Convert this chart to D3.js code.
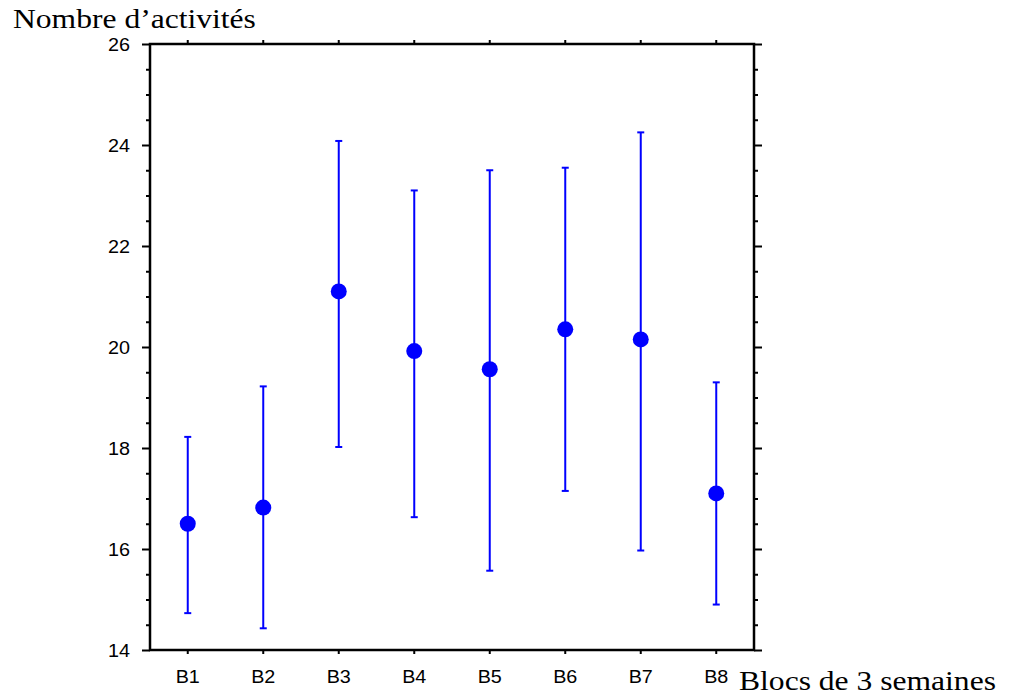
<!DOCTYPE html>
<html>
<head>
<meta charset="utf-8">
<script src="https://cdn.jsdelivr.net/npm/d3@7"></script>
<style>
  html, body { margin: 0; padding: 0; background: #fff; }
  svg { display: block; }
</style>
</head>
<body>
<svg id="chart" width="1010" height="700"></svg>
<script>
// ---- data ----
const categories = ["B1", "B2", "B3", "B4", "B5", "B6", "B7", "B8"];
const means = [16.5, 16.82, 21.1, 19.92, 19.56, 20.35, 20.15, 17.1];
const upper = [18.22, 19.22, 24.08, 23.1, 23.5, 23.55, 24.25, 19.3];
const lower = [14.73, 14.43, 18.02, 16.63, 15.57, 17.15, 15.97, 14.9];
const yMajorTicks = [14, 16, 18, 20, 22, 24, 26];
const yMinorTicks = [14.5, 15, 15.5, 16.5, 17, 17.5, 18.5, 19, 19.5, 20.5, 21, 21.5, 22.5, 23, 23.5, 24.5, 25, 25.5];
const yTitle = "Nombre d’activités";
const xTitle = "Blocs de 3 semaines";

// ---- layout ----
const L = 150, R = 754, T = 44, B = 650;
const svg = d3.select("#chart");
const sansFont = "'Liberation Sans', Arial, sans-serif";
const serifFont = "'Liberation Serif', 'Times New Roman', serif";
const sx = 1.13;   // horizontal stretch of labels in reference
const sxSerif = 1.17;

const x = d3.scaleBand().domain(categories).range([L, R]).padding(0);
const y = d3.scaleLinear().domain([14, 26]).range([B, T]);
const cx = c => x(c) + x.bandwidth() / 2;

function styleAxis(g) {
  g.select(".domain").remove();
  g.selectAll("line").attr("stroke", "#000").attr("stroke-width", 2);
  g.selectAll("text").remove();
}

// left axis: major + minor ticks outward
svg.append("g").attr("transform", `translate(${L},0)`)
  .call(d3.axisLeft(y).tickValues(yMajorTicks).tickSize(8)).call(styleAxis);
svg.append("g").attr("transform", `translate(${L},0)`)
  .call(d3.axisLeft(y).tickValues(yMinorTicks).tickSize(4)).call(styleAxis);
// right axis
svg.append("g").attr("transform", `translate(${R},0)`)
  .call(d3.axisRight(y).tickValues(yMajorTicks).tickSize(8)).call(styleAxis);
svg.append("g").attr("transform", `translate(${R},0)`)
  .call(d3.axisRight(y).tickValues(yMinorTicks).tickSize(4)).call(styleAxis);
// top & bottom
svg.append("g").attr("transform", `translate(0,${T})`)
  .call(d3.axisTop(x).tickSize(4)).call(styleAxis);
svg.append("g").attr("transform", `translate(0,${B})`)
  .call(d3.axisBottom(x).tickSize(4)).call(styleAxis);

// frame
svg.append("rect")
  .attr("x", L).attr("y", T).attr("width", R - L).attr("height", B - T)
  .attr("fill", "none").attr("stroke", "#000").attr("stroke-width", 2.5);

// y tick labels
svg.append("g").selectAll("text").data(yMajorTicks).join("text")
  .attr("transform", d => `translate(130,${y(d) + 6.5}) scale(${sx},1)`)
  .attr("text-anchor", "end")
  .attr("font-family", sansFont).attr("font-size", 17.5)
  .attr("fill", "#000")
  .text(d => d);

// x tick labels
svg.append("g").selectAll("text").data(categories).join("text")
  .attr("transform", d => `translate(${cx(d)},683) scale(${sx},1)`)
  .attr("text-anchor", "middle")
  .attr("font-family", sansFont).attr("font-size", 17.5)
  .attr("fill", "#000")
  .text(d => d);

// titles
svg.append("text")
  .attr("transform", `translate(13,28) scale(${sxSerif},1)`)
  .attr("font-family", serifFont).attr("font-size", 27).attr("fill", "#000")
  .text(yTitle);
svg.append("text")
  .attr("transform", `translate(739,690) scale(${sxSerif},1)`)
  .attr("font-family", serifFont).attr("font-size", 27).attr("fill", "#000")
  .text(xTitle);

// error bars
const data = categories.map((c, i) => ({ c, m: means[i], lo: lower[i], hi: upper[i] }));
const blue = "#0000ff";
const eb = svg.append("g");
eb.selectAll("line.v").data(data).join("line").attr("class", "v")
  .attr("x1", d => cx(d.c)).attr("x2", d => cx(d.c))
  .attr("y1", d => y(d.lo)).attr("y2", d => y(d.hi))
  .attr("stroke", blue).attr("stroke-width", 2);
const capW = 3.5;
eb.selectAll("line.hi").data(data).join("line").attr("class", "hi")
  .attr("x1", d => cx(d.c) - capW).attr("x2", d => cx(d.c) + capW)
  .attr("y1", d => y(d.hi)).attr("y2", d => y(d.hi))
  .attr("stroke", blue).attr("stroke-width", 2);
eb.selectAll("line.lo").data(data).join("line").attr("class", "lo")
  .attr("x1", d => cx(d.c) - capW).attr("x2", d => cx(d.c) + capW)
  .attr("y1", d => y(d.lo)).attr("y2", d => y(d.lo))
  .attr("stroke", blue).attr("stroke-width", 2);
eb.selectAll("circle").data(data).join("circle")
  .attr("cx", d => cx(d.c)).attr("cy", d => y(d.m)).attr("r", 8)
  .attr("fill", blue);
</script>
</body>
</html>
